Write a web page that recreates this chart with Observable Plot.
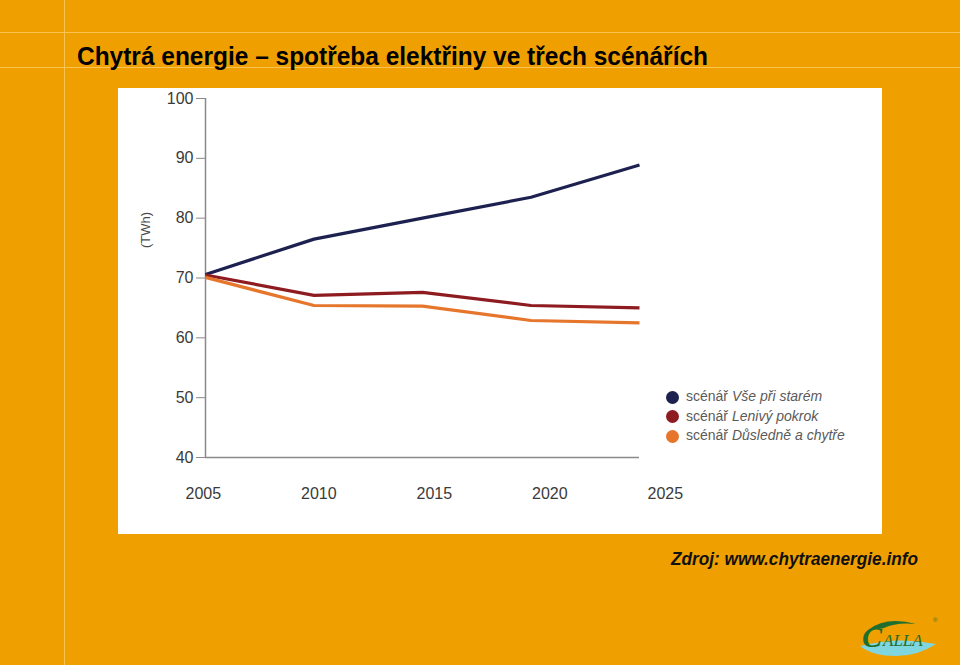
<!DOCTYPE html>
<html><head><meta charset="utf-8">
<script src="https://cdn.jsdelivr.net/npm/d3@7"></script>
<script src="https://cdn.jsdelivr.net/npm/@observablehq/plot@0.6"></script>
<style>
body{margin:0;background:#EFA000;}
#page{position:relative;width:960px;height:665px;background:#EFA000;overflow:hidden;font-family:"Liberation Sans",Arial,sans-serif;}
.hl{position:absolute;left:0;width:960px;height:1px;background:#F8C34E;}
.vl{position:absolute;top:0;height:665px;width:1px;background:#F8C34E;}
#title{position:absolute;left:77px;top:44px;font-family:"Liberation Sans Narrow","Arial Narrow","Liberation Sans",sans-serif;font-weight:bold;font-size:25px;line-height:1;color:#000;white-space:nowrap;transform-origin:0 0;}
#panel{position:absolute;left:118px;top:88px;width:764px;height:446px;background:#fff;}
#legend{position:absolute;left:666px;top:387px;font-size:14px;color:#5a5a5a;line-height:19.5px;}
#legend .row{position:relative;padding-left:20px;white-space:nowrap;}
#legend .sw{position:absolute;left:0;top:3.5px;width:13px;height:13px;border-radius:50%;}
#source{position:absolute;left:671px;top:550px;font-weight:bold;font-style:italic;font-size:18px;line-height:1;color:#111;white-space:nowrap;transform-origin:0 0;}
#logo{position:absolute;left:856px;top:612px;}
</style>
</head>
<body>
<div id="page">
  <div class="hl" style="top:32px"></div>
  <div class="hl" style="top:67px"></div>
  <div class="vl" style="left:64px"></div>
  <div id="title">Chytrá energie – spotřeba elektřiny ve třech scénářích</div>
  <div id="panel"></div>
  <div id="legend"></div>
  <div id="source">Zdroj: www.chytraenergie.info</div>
  <svg id="logo" width="84" height="46" viewBox="0 0 84 46">
    <path d="M4 34 Q42 24 80 32 Q62 44 40 44 Q16 44 4 34 Z" fill="#7fd6df"/>
    <path d="M12 18 Q30 4 60 12 Q40 10 28 16 Z" fill="#1f6e2e"/>
    <text x="6" y="35" font-family="Liberation Serif, serif" font-style="italic" font-weight="bold" font-size="30" fill="#1f6e2e">C</text>
    <text x="27" y="34" font-family="Liberation Serif, serif" font-style="italic" font-size="17" fill="#1f6e2e">ALLA</text>
    <text x="77" y="10" font-family="Liberation Sans, sans-serif" font-size="6" fill="#1f6e2e">®</text>
  </svg>
</div>
<script>
// ---- data ----
const years = [2005, 2010, 2015, 2020, 2025];
const scenarioPrefix = "scénář ";
const scenarioNames = ["Vše při starém", "Lenivý pokrok", "Důsledně a chytře"];
const vseValues = [70.6, 76.5, 80.0, 83.5, 88.9];
const lenivyValues = [70.5, 67.1, 67.6, 65.4, 65.0];
const dusledneValues = [70.1, 65.4, 65.3, 62.9, 62.5];
const yTicks = [40, 50, 60, 70, 80, 90, 100];
const xTickLabels = ["2005", "2010", "2015", "2020", "2025"];
const seriesColors = ["#1d2150", "#8e1b20", "#e5762c"];
const yUnit = "(TWh)";

const seriesValues = [vseValues, lenivyValues, dusledneValues];
const rows = [];
scenarioNames.forEach((name, s) => {
  years.forEach((yr, i) => rows.push({scenario: name, year: yr, value: seriesValues[s][i]}));
});
// labels in the original are spread slightly wider than the data points
const labelStretch = 1.0645;

const chart = Plot.plot({
  width: 764, height: 446,
  marginLeft: 87, marginRight: 243, marginTop: 10, marginBottom: 77,
  style: {background: "white", fontFamily: "'Liberation Sans', Arial, sans-serif", fontSize: "16px", color: "#3a3a3a"},
  x: {domain: [2005, 2025], axis: null},
  y: {domain: [40, 100], axis: null},
  color: {domain: scenarioNames, range: seriesColors},
  marks: [
    Plot.ruleY([40], {x1: 2005, x2: 2025, stroke: "#8a8a8a", strokeWidth: 1.5}),
    Plot.ruleX([2005], {y1: 40, y2: 100, stroke: "#8a8a8a", strokeWidth: 1.5}),
    Plot.axisY({ticks: yTicks, tickSize: 9, tickPadding: 3, stroke: "#8a8a8a", fill: "#3a3a3a", fontSize: 16, label: null}),
    Plot.text(xTickLabels, {x: d => 2004.9 + (+d - 2005) * labelStretch, y: () => 40, dy: 36, text: d => d, fill: "#3a3a3a", fontSize: 16}),
    Plot.text([yUnit], {frameAnchor: "left", y: () => 75, dx: -60, rotate: -90, text: d => d, fill: "#4a4a4a", fontSize: 13}),
    Plot.line(rows, {x: "year", y: "value", z: "scenario", stroke: "scenario", strokeWidth: 3.2, strokeLinecap: "butt"})
  ]
});
document.getElementById("panel").appendChild(chart);

// legend
const legend = document.getElementById("legend");
scenarioNames.forEach((name, i) => {
  const row = document.createElement("div");
  row.className = "row";
  row.innerHTML = `<span class="sw" style="background:${seriesColors[i]}"></span>${scenarioPrefix}<i>${name}</i>`;
  legend.appendChild(row);
});

function fitWidth(id, w) {
  const el = document.getElementById(id);
  const r = el.getBoundingClientRect().width;
  el.style.transform = `scaleX(${w / r})`;
}
fitWidth("title", 631);
fitWidth("source", 247);
</script>
</body></html>
